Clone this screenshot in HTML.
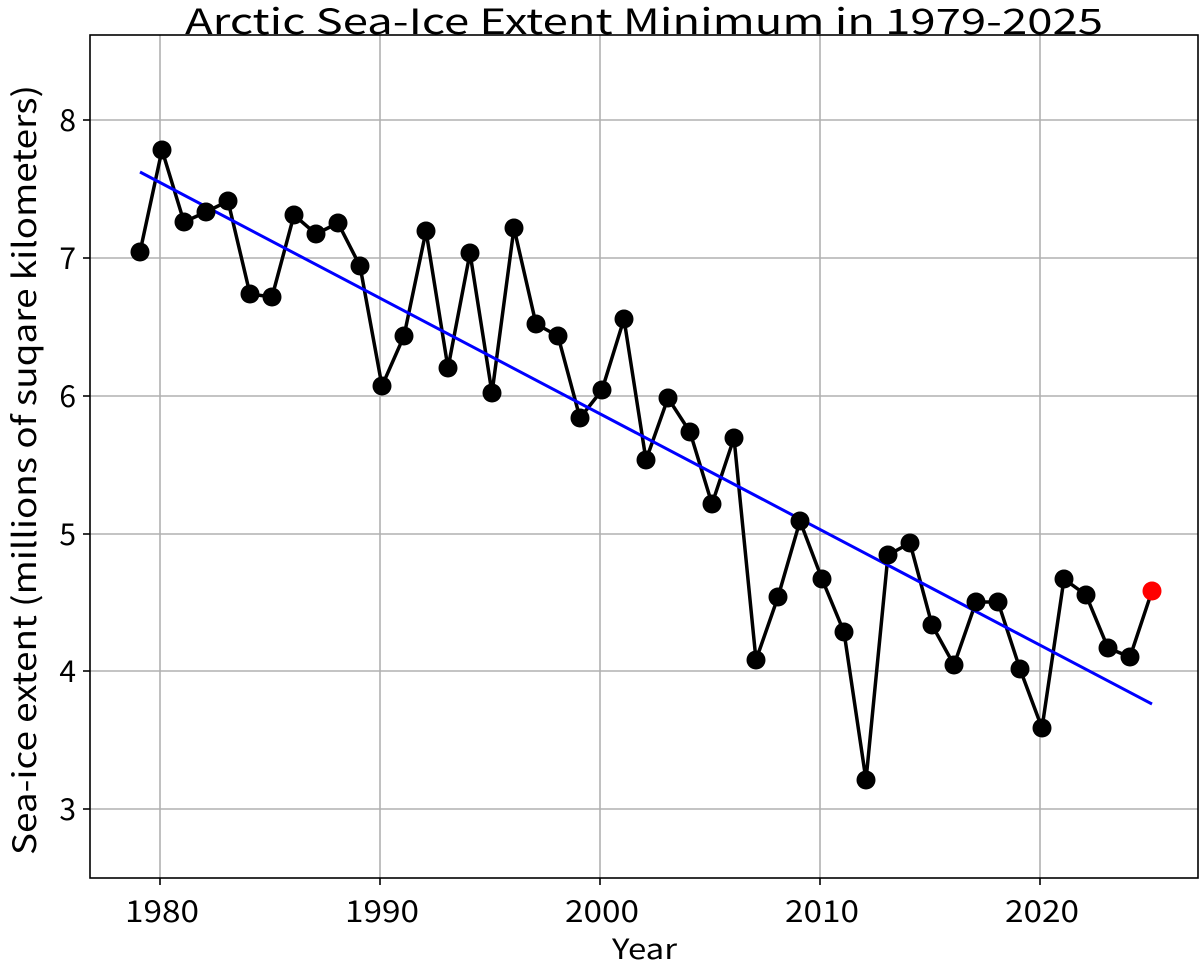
<!DOCTYPE html>
<html><head><meta charset="utf-8"><style>body{margin:0;background:#fff}svg{display:block}text{font-family:"Noto Sans CJK JP","Liberation Sans",sans-serif;fill:#000}</style></head><body>
<svg width="1200" height="964" viewBox="0 0 1200 964" xmlns="http://www.w3.org/2000/svg">
<rect width="1200" height="964" fill="#fff"/>
<g stroke="#b0b0b0" stroke-width="1.6">
<line x1="160" y1="35" x2="160" y2="878"/><line x1="380" y1="35" x2="380" y2="878"/><line x1="600" y1="35" x2="600" y2="878"/><line x1="820" y1="35" x2="820" y2="878"/><line x1="1040" y1="35" x2="1040" y2="878"/>
<line x1="90" y1="120" x2="1198" y2="120"/><line x1="90" y1="258" x2="1198" y2="258"/><line x1="90" y1="396" x2="1198" y2="396"/><line x1="90" y1="534" x2="1198" y2="534"/><line x1="90" y1="671" x2="1198" y2="671"/><line x1="90" y1="809" x2="1198" y2="809"/>
</g>
<rect x="90" y="35" width="1108" height="843" fill="none" stroke="#000" stroke-width="1.6"/>
<g stroke="#000" stroke-width="1.6">
<line x1="160" y1="878" x2="160" y2="885"/><line x1="380" y1="878" x2="380" y2="885"/><line x1="600" y1="878" x2="600" y2="885"/><line x1="820" y1="878" x2="820" y2="885"/><line x1="1040" y1="878" x2="1040" y2="885"/>
<line x1="83" y1="120" x2="90" y2="120"/><line x1="83" y1="258" x2="90" y2="258"/><line x1="83" y1="396" x2="90" y2="396"/><line x1="83" y1="534" x2="90" y2="534"/><line x1="83" y1="671" x2="90" y2="671"/><line x1="83" y1="809" x2="90" y2="809"/>
</g>
<g font-size="30">
<text x="125" y="922" textLength="74" lengthAdjust="spacingAndGlyphs">1980</text><text x="345" y="922" textLength="74" lengthAdjust="spacingAndGlyphs">1990</text><text x="565" y="922" textLength="74" lengthAdjust="spacingAndGlyphs">2000</text><text x="785" y="922" textLength="74" lengthAdjust="spacingAndGlyphs">2010</text><text x="1005" y="922" textLength="74" lengthAdjust="spacingAndGlyphs">2020</text>
</g>
<g font-size="30" text-anchor="end">
<text x="76" y="131">8</text><text x="76" y="269">7</text><text x="76" y="407">6</text><text x="76" y="545">5</text><text x="76" y="682">4</text><text x="76" y="820">3</text>
</g>
<text x="612" y="959" font-size="28" textLength="65" lengthAdjust="spacingAndGlyphs">Year</text>
<text x="0" y="0" font-size="32" textLength="770" lengthAdjust="spacingAndGlyphs" transform="translate(36,855) rotate(-90)">Sea-ice extent (millions of suqare kilometers)</text>
<text x="185" y="34" font-size="35" textLength="918" lengthAdjust="spacingAndGlyphs">Arctic Sea-Ice Extent Minimum in 1979-2025</text>
<polyline fill="none" stroke="#000" stroke-width="3.5" points="140,252 162,150 184,222 206,212 228,201 250,294 272,297 294,215 316,234 338,223 360,266 382,386 404,336 426,231 448,368 470,253 492,393 514,228 536,324 558,336 580,418 602,390 624,319 646,460 668,398 690,432 712,504 734,438 756,660 778,597 800,521 822,579 844,632 866,780 888,555 910,543 932,625 954,665 976,602 998,602 1020,669 1042,728 1064,579 1086,595 1108,648 1130,657 1152,591"/>
<line x1="140" y1="172" x2="1152" y2="704" stroke="#0000ff" stroke-width="3"/>
<g fill="#000">
<circle cx="140" cy="252" r="9.5"/><circle cx="162" cy="150" r="9.5"/><circle cx="184" cy="222" r="9.5"/><circle cx="206" cy="212" r="9.5"/><circle cx="228" cy="201" r="9.5"/><circle cx="250" cy="294" r="9.5"/><circle cx="272" cy="297" r="9.5"/><circle cx="294" cy="215" r="9.5"/><circle cx="316" cy="234" r="9.5"/><circle cx="338" cy="223" r="9.5"/><circle cx="360" cy="266" r="9.5"/><circle cx="382" cy="386" r="9.5"/><circle cx="404" cy="336" r="9.5"/><circle cx="426" cy="231" r="9.5"/><circle cx="448" cy="368" r="9.5"/><circle cx="470" cy="253" r="9.5"/><circle cx="492" cy="393" r="9.5"/><circle cx="514" cy="228" r="9.5"/><circle cx="536" cy="324" r="9.5"/><circle cx="558" cy="336" r="9.5"/><circle cx="580" cy="418" r="9.5"/><circle cx="602" cy="390" r="9.5"/><circle cx="624" cy="319" r="9.5"/><circle cx="646" cy="460" r="9.5"/><circle cx="668" cy="398" r="9.5"/><circle cx="690" cy="432" r="9.5"/><circle cx="712" cy="504" r="9.5"/><circle cx="734" cy="438" r="9.5"/><circle cx="756" cy="660" r="9.5"/><circle cx="778" cy="597" r="9.5"/><circle cx="800" cy="521" r="9.5"/><circle cx="822" cy="579" r="9.5"/><circle cx="844" cy="632" r="9.5"/><circle cx="866" cy="780" r="9.5"/><circle cx="888" cy="555" r="9.5"/><circle cx="910" cy="543" r="9.5"/><circle cx="932" cy="625" r="9.5"/><circle cx="954" cy="665" r="9.5"/><circle cx="976" cy="602" r="9.5"/><circle cx="998" cy="602" r="9.5"/><circle cx="1020" cy="669" r="9.5"/><circle cx="1042" cy="728" r="9.5"/><circle cx="1064" cy="579" r="9.5"/><circle cx="1086" cy="595" r="9.5"/><circle cx="1108" cy="648" r="9.5"/><circle cx="1130" cy="657" r="9.5"/>
</g>
<circle cx="1152" cy="591" r="9.5" fill="#ff0000"/>
</svg>
</body></html>
